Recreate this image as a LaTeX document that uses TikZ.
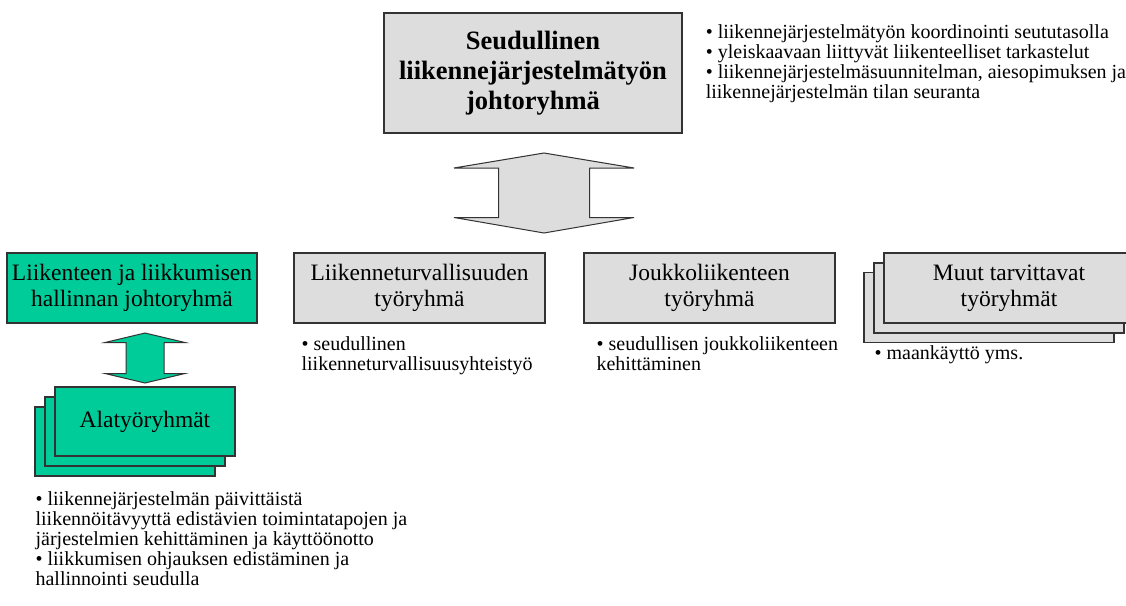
\documentclass[tikz,border=0pt]{standalone}
\usepackage{fontspec}
\setmainfont{Liberation Serif}
\usetikzlibrary{positioning, calc}

\definecolor{boxgray}{RGB}{221,221,221}
\definecolor{tealgreen}{RGB}{0,204,153}
\definecolor{edgegray}{RGB}{51,51,51}

\begin{document}
\begin{tikzpicture}[x=1pt, y=1pt, node distance=2cm,
    groupbox/.style={rectangle, draw=edgegray, line width=1.2pt, fill=boxgray, align=center, minimum width=251pt, minimum height=70pt, inner sep=0pt, font=\fontsize{23.5}{26}\selectfont},
    greenbox/.style={groupbox, fill=tealgreen},
    notetext/.style={align=left, anchor=north west, inner sep=0pt, font=\fontsize{20}{20}\selectfont},
    twoway/.style={draw=edgegray, line width=1pt, line join=miter}]
    \useasboundingbox (0,0) rectangle (1126,-605);

    % steering group
    \node[groupbox, minimum width=298pt, minimum height=120pt, font=\bfseries\fontsize{26.5}{30}\selectfont] (steering) at (533,-73) {Seudullinen\\liikennejärjestelmätyön\\johtoryhmä};
    \node[notetext, below right=12pt and 23pt of steering.north east] (steeringnote) {• liikennejärjestelmätyön koordinointi seututasolla\\• yleiskaavaan liittyvät liikenteelliset tarkastelut\\• liikennejärjestelmäsuunnitelman, aiesopimuksen ja\\liikennejärjestelmän tilan seuranta};

    \coordinate (bigarrow) at (544,-193);
    \filldraw[twoway, fill=boxgray, shift={(bigarrow)}] (0,40) -- (90,25) -- (45.5,25) -- (45.5,-24.5) -- (90,-24.5) -- (0,-40) -- (-90,-24.5) -- (-45.5,-24.5) -- (-45.5,25) -- (-90,25) -- cycle;

    % working groups
    \node[greenbox, minimum width=250pt] (traffic) at (132,-288) {Liikenteen ja liikkumisen\\hallinnan johtoryhmä};
    \node[groupbox, right of=traffic, node distance=287.5pt] (safety) {Liikenneturvallisuuden\\työryhmä};
    \node[groupbox, right of=safety, node distance=290pt] (transit) {Joukkoliikenteen\\työryhmä};
    \coordinate (othersc) at (1009,-288);
    \node[groupbox, minimum width=250pt] (others3) at ($(othersc)+(-20,-19.5)$) {};
    \node[groupbox, minimum width=250pt] (others2) at ($(othersc)+(-10,-10)$) {};
    \node[groupbox, minimum width=250pt] (others) at (othersc) {Muut tarvittavat\\työryhmät};

    \node[notetext, below right=13pt and 8pt of safety.south west] (safetynote) {• seudullinen\\liikenneturvallisuusyhteistyö};
    \node[notetext, below right=13pt and 13pt of transit.south west] (transitnote) {• seudullisen joukkoliikenteen\\kehittäminen};
    \node[notetext, below right=2pt and 11pt of others3.south west] (othersnote) {• maankäyttö yms.};

    % sub groups
    \coordinate (subarrow) at (145,-358);
    \filldraw[twoway, fill=tealgreen, shift={(subarrow)}] (0,25) -- (40,15.5) -- (19,15.5) -- (19,-15.5) -- (40,-15.5) -- (0,-25) -- (-40,-15.5) -- (-19,-15.5) -- (-19,15.5) -- (-40,15.5) -- cycle;

    \node[greenbox, minimum width=180pt, minimum height=69pt] (sub3) at (125,-441.5) {};
    \node[greenbox, minimum width=180pt, minimum height=69pt] (sub2) at (135,-431.5) {};
    \node[greenbox, minimum width=180pt, minimum height=69pt] (sub) at (145,-421.5) {Alatyöryhmät};

    \node[notetext, below right=15pt and 1pt of sub3.south west] (subnote) {• liikennejärjestelmän päivittäistä\\liikennöitävyyttä edistävien toimintatapojen ja\\järjestelmien kehittäminen ja käyttöönotto\\• liikkumisen ohjauksen edistäminen ja\\hallinnointi seudulla};
\end{tikzpicture}
\end{document}
